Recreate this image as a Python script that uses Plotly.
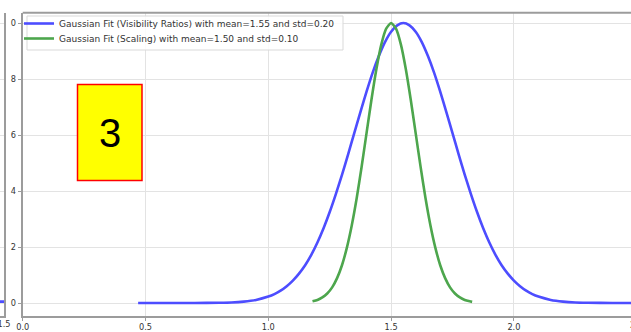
import plotly.graph_objects as go

# ---- data ----
blue_x = [0.47, 0.60, 0.70, 0.80, 0.85, 0.90, 0.95,
          1.000, 1.025, 1.050, 1.075, 1.100, 1.125, 1.150, 1.175, 1.200, 1.225, 1.250,
          1.275, 1.300, 1.325, 1.350, 1.375, 1.400, 1.425, 1.450, 1.475, 1.500, 1.525,
          1.550, 1.575, 1.600, 1.625, 1.650, 1.675, 1.700, 1.725, 1.750, 1.775, 1.800,
          1.825, 1.850, 1.875, 1.900, 1.925, 1.950, 1.975, 2.000, 2.025, 2.050, 2.075,
          2.100, 2.15, 2.20, 2.25, 2.30, 2.40, 2.50, 2.63]
blue_y = [0.00, 0.00, 0.00, 0.01, 0.02, 0.05, 0.11,
          0.23, 0.32, 0.44, 0.60, 0.80, 1.05, 1.35, 1.72, 2.16, 2.67, 3.25,
          3.89, 4.58, 5.31, 6.07, 6.82, 7.55, 8.23, 8.82, 9.32, 9.69, 9.92,
          10.00, 9.92, 9.69, 9.32, 8.82, 8.23, 7.55, 6.82, 6.07, 5.31, 4.58,
          3.89, 3.25, 2.67, 2.16, 1.72, 1.35, 1.05, 0.80, 0.60, 0.44, 0.32,
          0.23, 0.11, 0.05, 0.02, 0.01, 0.00, 0.00, 0.00]

green_x = [1.18, 1.20, 1.22, 1.24, 1.26, 1.28, 1.30, 1.32, 1.34, 1.36, 1.38, 1.40, 1.42,
           1.44, 1.46, 1.48, 1.50, 1.52, 1.54, 1.56, 1.58, 1.60, 1.62, 1.64, 1.66, 1.68,
           1.70, 1.72, 1.74, 1.76, 1.78, 1.80, 1.82, 1.83]
green_y = [0.06, 0.11, 0.20, 0.34, 0.56, 0.89, 1.35, 1.98, 2.78, 3.75, 4.87, 6.07, 7.26,
           8.35, 9.23, 9.80, 10.00, 9.80, 9.23, 8.35, 7.26, 6.07, 4.87, 3.75, 2.78, 1.98,
           1.35, 0.89, 0.56, 0.34, 0.20, 0.11, 0.06, 0.04]

blue_name = "Gaussian Fit (Visibility Ratios) with mean=1.55 and std=0.20"
green_name = "Gaussian Fit (Scaling) with mean=1.50 and std=0.10"

x_tick_vals = [0.0, 0.5, 1.0, 1.5, 2.0, 2.5]
x_tick_text = ["0.0", "0.5", "1.0", "1.5", "2.0", "2.5"]
y_tick_vals = [0, 2, 4, 6, 8, 10]
y_tick_text = ["0", "2", "4", "6", "8", "0"]

# neighbouring (cropped) panel on the far left
left_x = [1.40, 1.50]
left_y = [0.05, 0.05]
left_tick_vals = [1.5]
left_tick_text = ["1.5"]

panel_label = "3"

W, H = 631, 332
px = lambda v: v / W
py = lambda v: (H - v) / H

ax_left, ax_bottom, ax_top = 22.7, 315.5, 12.7
x_per_unit = 245.6
x_max = (W - ax_left) / x_per_unit

BLUE = "#4d4dff"
GREEN = "#4da64d"
SPINE = "#9c9c9c"
GRID = "#e3e3e3"
TXT = "#333333"
FONT = "DejaVu Sans"
TICK_FS = 8.2
LEG_FS = 9

fig = go.Figure()
fig.add_trace(go.Scatter(x=blue_x, y=blue_y, mode="lines", name=blue_name, legend="legend",
                         line=dict(color=BLUE, width=2.6, shape="spline", smoothing=0.6)))
fig.add_trace(go.Scatter(x=green_x, y=green_y, mode="lines", name=green_name, legend="legend2",
                         line=dict(color=GREEN, width=2.6, shape="spline", smoothing=0.6)))
fig.add_trace(go.Scatter(x=left_x, y=left_y, mode="lines", showlegend=False,
                         xaxis="x2", yaxis="y2", line=dict(color=BLUE, width=2.6)))

dom_y = [py(ax_bottom), py(ax_top)]
y_range = [-0.446, 10.37]

leg_common = dict(xanchor="left", yanchor="middle", bgcolor="rgba(0,0,0,0)",
                  borderwidth=0, font=dict(size=LEG_FS, color=TXT, family=FONT),
                  itemwidth=30)

# tick labels of ticks lying just past the visible right edge (half cut off, as in the picture)
edge_labels = [dict(text=t, xref="paper", yref="paper",
                    x=px(ax_left + v * x_per_unit), y=py(325), showarrow=False,
                    xanchor="center", yanchor="middle",
                    font=dict(family=FONT, size=TICK_FS, color=TXT))
               for v, t in zip(x_tick_vals, x_tick_text) if v > x_max]

fig.update_layout(
    width=W, height=H,
    margin=dict(l=0, r=0, t=0, b=0, autoexpand=False),
    paper_bgcolor="white", plot_bgcolor="white",
    font=dict(family=FONT, size=TICK_FS, color=TXT),
    hovermode=False,
    xaxis=dict(domain=[px(ax_left), 1.0], range=[0, x_max],
               tickvals=x_tick_vals, ticktext=x_tick_text, automargin=False,
               showgrid=True, gridcolor=GRID, gridwidth=1.2, zeroline=False,
               showline=True, linecolor=SPINE, linewidth=2,
               ticks="outside", ticklen=3, tickcolor=SPINE, tickwidth=1,
               ticklabelstandoff=0,
               tickfont=dict(size=TICK_FS, color=TXT), anchor="y"),
    yaxis=dict(domain=dom_y, range=y_range, automargin=False,
               tickvals=y_tick_vals, ticktext=y_tick_text,
               showgrid=True, gridcolor=GRID, gridwidth=1.2, zeroline=False,
               showline=True, linecolor=SPINE, linewidth=2,
               ticks="outside", ticklen=3, tickcolor=SPINE, tickwidth=1,
               tickfont=dict(size=TICK_FS, color=TXT), anchor="x"),
    xaxis2=dict(domain=[0, px(4)], range=[1.44, 1.5], anchor="y2", automargin=False,
                tickvals=left_tick_vals, ticktext=left_tick_text,
                showgrid=False, zeroline=False, showline=True, linecolor=SPINE,
                linewidth=2, ticks="", ticklabelstandoff=0, ticklabeloverflow="allow",
                tickfont=dict(size=TICK_FS, color=TXT)),
    yaxis2=dict(domain=dom_y, range=y_range, anchor="x2", side="right", automargin=False,
                tickvals=y_tick_vals, showticklabels=False,
                showgrid=True, gridcolor=GRID, zeroline=False,
                showline=True, linecolor=SPINE, linewidth=2, ticks=""),
    legend=dict(x=px(19), y=py(23.5), **leg_common),
    legend2=dict(x=px(19), y=py(38.5), **leg_common),
    showlegend=True,
    shapes=[
        dict(type="line", xref="paper", yref="paper", x0=px(ax_left), x1=1.0,
             y0=py(ax_top), y1=py(ax_top), line=dict(color=SPINE, width=2)),
        dict(type="rect", xref="paper", yref="paper", x0=px(27), x1=px(343),
             y0=py(50), y1=py(16), fillcolor="rgba(255,255,255,0.85)",
             line=dict(color="#d9d9d9", width=1), layer="above"),
        dict(type="rect", xref="paper", yref="paper", x0=px(77.5), x1=px(142),
             y0=py(180.5), y1=py(84.5), fillcolor="#ffff00",
             line=dict(color="#ff0000", width=1.5), layer="above"),
    ],
    annotations=[
        dict(text=panel_label, xref="paper", yref="paper", x=px(110), y=py(132.5),
             showarrow=False, xanchor="center", yanchor="middle",
             font=dict(family="Liberation Sans, Arial", size=40, color="black")),
    ] + edge_labels,
)

fig.write_html("out.html", config={"displayModeBar": False},
               post_script="document.body.style.margin='0';document.body.style.padding='0';")
